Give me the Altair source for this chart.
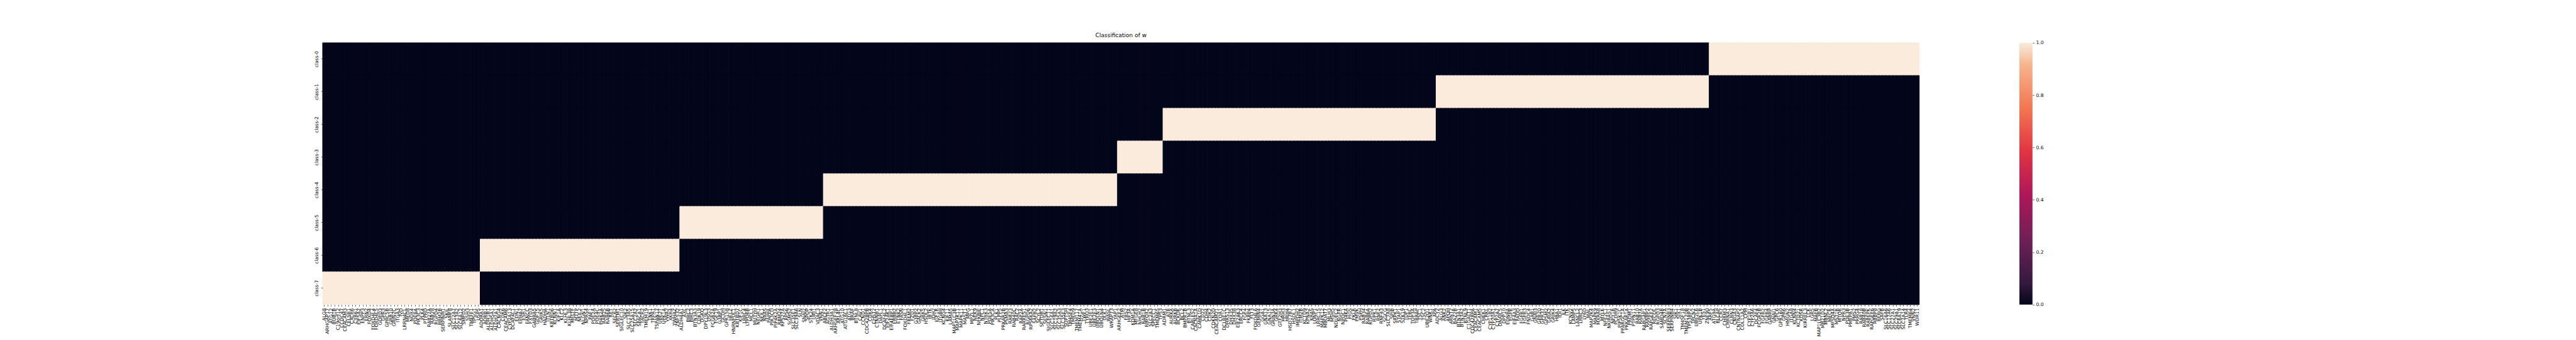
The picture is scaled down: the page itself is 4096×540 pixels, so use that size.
import altair as alt
import pandas as pd

classes = ["class-0", "class-1", "class-2", "class-3", "class-4", "class-5", "class-6", "class-7"]

genes_class7 = ["ALG8", "ARHGAP17", "ATG12", "BUB1B", "C19orf12", "CCDC47", "CEACAM3", "CELSR1", "CXCR6",
                "CYR61", "EIF5A2", "ENPP3", "ERN2", "FOXD4", "FOXD4L4", "FOXD4L5", "GDPD3", "GPR3", "GPRC5B",
                "GRB10", "GRIN2C", "ITGA3", "IVD", "LRRN4CL", "MED8", "NOX4", "PDE8A", "PIK3C3", "PLK4",
                "PTPRD", "RAB27A", "RAB28", "RGPD4", "RRM2B", "SERPINH1", "SKIL", "SLAMF8", "SLC12A7",
                "SLC13A2", "SLC6A12", "SMPD2", "SSH3", "TMEFF1", "TPSG1", "USP5"]
genes_class6 = ["ADORA1", "ADRB1", "ALDH1B1", "ALDH5A1", "ALDH7A1", "CACNG4", "CDK6", "CEACAM6", "CYP2A13",
                "DCAF4L1", "EDN1", "EPHA7", "ESR1", "FANCC", "FXYD3", "GABRA5", "GDF15", "GRIK5", "HADHA",
                "ITLN1", "KBTBD6", "KCNN1", "KIF1A", "KLC2", "KLHL3", "KLHL38", "MELTF", "MTTP", "NEIL2",
                "NLGN1", "NPAS4", "PAF1", "PDE2A", "PDE4C", "PI4K2A", "RAB25", "RAB6B", "RET", "SEC62",
                "SERTM1", "SIGLEC10", "SIK2", "SLC13A5", "SLC25A15", "SLC2A2", "SPACA1", "TACR2", "TMEM19",
                "TNK1", "TRPA1", "TSPAN17", "UBE2T", "UPK1A", "VWA2", "XKR4", "YWHAZ", "ZNF532"]
genes_class5 = ["ALDH4A1", "AXL", "BIRC2", "BIRC3", "BTN3A3", "CDK19", "DGKQ", "DPY19L3", "DSG3", "FCGR2A",
                "FGF19", "G3BP1", "GCDH", "GPR158", "HELZ", "HNRNPUL1", "KBTBD7", "KIF1C", "LRRC4", "LYPD6B",
                "MCL1", "MUTYH", "NEGR1", "NEIL1", "NRAS", "PAPPA", "PIK3CD", "PIP4K2A", "RBM24", "RPS27A",
                "RPS6", "SGMS2", "SLC35E1", "SLC39A6", "SLN", "SNAI2", "SPOP", "STK24", "URI1", "VDAC3", "VNN1"]
genes_class4 = ["ABCF2", "AGTR1", "ALDH3A1", "ARHGEF28", "ARL4C", "ATG10", "ATG16L1", "ATG3", "BRAF", "BTNL8",
                "CAV1", "CCND1", "CDC42BPB", "CDK4", "CHST2", "CTNNB1", "DAPL1", "DCAF4L2", "EIF2AK1",
                "EIF4EBP1", "ERBB2", "ETNK2", "FASN", "FOXD4L1", "FREM2", "FZD1", "G3BP2", "GALK2", "GRK5",
                "HSDL2", "IBTK", "IDH2", "IGF1R", "ITGB8", "KCNG4", "KIF11", "LAMA5", "MAP1LC3B", "MAP3K11",
                "MAPK11", "MAST1", "MPG", "MPZL1", "NEK9", "NFKBIE", "NPC1", "NTRK3", "PDE5A", "PIK3CA",
                "PLK1", "PLPP5", "PRKAR2B", "PSMA3", "RAB23", "RAB40C", "RAC2", "RAP2A", "RARRES1", "RGPD6",
                "RPS6KA2", "SAFB2", "SCYL2", "SETDB1", "SESN1", "SIGLEC11", "SLC16A1", "SLC19A2", "SLC35A3",
                "SLC35E3", "SUPT5H", "TM4SF4", "TMED9", "TMEM117", "TMEM41A", "TWF1", "TYRO3", "UBE2E1",
                "UBE2E3", "UBQLN1", "UBQLN4", "ULK1", "WASL", "WRAP73", "YAP1"]
genes_class3 = ["ARHGEF2", "ATM", "FRS2", "HIF3A", "KDM1A", "MFGE8", "NHLH2", "RAB1B", "RBFOX2", "SLC2A3",
                "SPECC1", "TMEM65", "TP53"]
genes_class2 = ["ADRM1", "ATR", "AURKA", "AURKB", "BCKDK", "BCL2", "BMPR1B", "BTNL3", "CABLES2", "CACNA1A",
                "CAMK1D", "CD22", "CDH4", "CDK2", "CDKN2D", "CEACAM21", "COA1", "DCLRE1C", "DHRS13", "DHX35",
                "DHX38", "EIF2AK3", "ERCC4", "FGF4", "FKBP4", "FLT3", "FOXD4L6", "GEMIN4", "GGA1", "GNA13",
                "GNA15", "GRIN3A", "GRK4", "GTF2H3", "HRH3", "HRH4", "HSD17B7", "HSDL1", "IMPDH2", "ITM2B",
                "KCTD9", "KPNA2", "KRAS", "LONP1", "LRRC15", "MAPK12", "MBOAT7", "MLH3", "MSH5", "NDUFC2",
                "NGFR", "NPDC1", "PI4KA", "PIGS", "PKLR", "PMVK", "PSPH", "RAB34", "RAB6A", "RGPD2", "RIPK1",
                "RNF2", "RNF43", "SGCG", "SLC7A8", "SPIB", "SRPK1", "STAP1", "STK19", "TDP1", "TFRC", "TOP3A",
                "TRRAP", "TSC1", "TSC2", "UBE2Q1", "WNK1", "XPA"]
genes_class1 = ["ADCY2", "ALG3", "ANK2", "APOH", "ARNT2", "BAZ2B", "BTN3A1", "BTN3A2", "BTNL9", "C1GALT1",
                "CDC42BPA", "CEACAM1", "CEACAM5", "CHEK1", "CRKL", "CYP11B2", "CYP20A1", "CYP2A7", "DNAJC5",
                "DPP10", "EDNRA", "EGFR", "EIF4A3", "FADD", "FGFR1", "FGFR3", "FNDC4", "GAB1", "GNAI3", "GPR20",
                "GPR37", "GPSM2", "GRIA2", "GRIK4", "HBA1", "IDI1", "ILK", "ITK", "KCNV2", "LAMP5", "LANCL2",
                "LRRC3", "LY6D", "MAL", "MAP2K4", "MAPK9", "MXRA8", "MYLK", "NFE2L1", "NKIRAS1", "NPY1R",
                "PCDH9", "PIP5K1C", "PPARGC1A", "PRKAR1A", "PROM1", "PTPN11", "RAB10", "RAB7A", "RABGAP1",
                "RANBP2", "RAPGEF2", "RECQL", "RGPD3", "SAMD4B", "SCN7A", "SERPINB3", "SERPINB4", "SIK1",
                "SIX1", "TM4SF18", "TMEM170B", "TP53BP2", "TPCN2", "UBE2L6", "UPK1B", "YES1", "ZNF90"]
genes_class0 = ["ARF5", "ATG9A", "BLCAP", "CCR7", "CHRM3", "CHRNA1", "CLRN3", "CNGA3", "CNTNAP2", "COL11A2",
                "CPM", "CYP1B1", "CYP2A6", "DCAF4", "FCGR2B", "FGFR2", "FGFR4", "GABRP", "GNAI1", "GPC6",
                "GPR160", "GPR6", "HMGN2", "ITGA8", "KCNN4", "KCTD21", "KDSR", "KIRREL3", "LCK", "LGR5",
                "MAFB", "MAP1LC3B2", "MB21D2", "MBNL2", "MECR", "MFSD4A", "MST1R", "MTOR", "NPR3", "PDE3B",
                "PMEPA1", "PMS2", "PRRG4", "RAB18", "RAB40B", "RABEPK", "RAPGEF6", "RBBP8", "RERG", "SAFB",
                "SLC16A6", "SLC17A6", "SLC27A1", "SLC29A1", "SLC6A19", "SLC7A14", "TLR4", "TMEM64", "VNN2",
                "WDR11"]

blocks = [("class-7", genes_class7), ("class-6", genes_class6), ("class-5", genes_class5),
          ("class-4", genes_class4), ("class-3", genes_class3), ("class-2", genes_class2),
          ("class-1", genes_class1), ("class-0", genes_class0)]

cbar_ticks = [0.0, 0.2, 0.4, 0.6, 0.8, 1.0]

order = []
records = []
for cls, genes in blocks:
    for g in genes:
        order.append(g)
        for c in classes:
            records.append({"gene": g, "cls": c, "value": 1.0 if c == cls else 0.0})
df = pd.DataFrame(records)

# rocket colormap stops
rocket_offsets = [0.0, 0.0833, 0.25, 0.4167, 0.5833, 0.75, 0.9167, 1.0]
rocket_colors = ["#03051a", "#35193e", "#701f57", "#ad1759", "#e13342", "#f37651", "#f6b48f", "#faebdd"]

S = 0.54
FS = 13.89 * S        # 10pt tick labels
TFS = 16.67 * S       # 12pt title
TICK = 4.86 * S
PAD = 4.86 * S
TW = 1.11 * S

W = 4701.4 * S
H = 770.0 * S

color_scale = alt.Scale(domain=rocket_offsets, range=rocket_colors)

title_kw = dict(fontSize=TFS, font="DejaVu Sans", fontWeight="normal", color="black",
                offset=-1, anchor="middle", frame="group", baseline="alphabetic")

heat = alt.Chart(df).mark_rect(strokeWidth=1.0).encode(
    x=alt.X("gene:N", sort=order, scale=alt.Scale(paddingInner=0, paddingOuter=0),
            axis=alt.Axis(title=None, labelAngle=270, labelAlign="right", labelBaseline="middle",
                          labelOverlap=False, domain=False)),
    y=alt.Y("cls:N", sort=classes, scale=alt.Scale(paddingInner=0, paddingOuter=0),
            axis=alt.Axis(title=None, labelAngle=270, labelAlign="center", labelBaseline="bottom",
                          labelOverlap=False, domain=False)),
    color=alt.Color("value:Q", scale=color_scale, legend=None),
    stroke=alt.Stroke("value:Q", scale=color_scale, legend=None),
).properties(width=W, height=H, title=alt.TitleParams("Classification of w", **title_kw))

cb_df = pd.DataFrame({"lo": [0.0], "hi": [1.0]})
gradient = {"gradient": "linear", "x1": 0, "x2": 0, "y1": 1, "y2": 0,
            "stops": [{"offset": o, "color": c} for o, c in zip(rocket_offsets, rocket_colors)]}
cbar = alt.Chart(cb_df).mark_rect(color=gradient).encode(
    y=alt.Y("lo:Q", scale=alt.Scale(domain=[0, 1], nice=False, zero=False),
            axis=alt.Axis(title=None, orient="right", values=cbar_ticks, format=".1f", grid=False,
                          domain=False, labelFlush=False, labelOverlap=False)),
    y2="hi:Q",
).properties(width=38.5 * S, height=H, title=alt.TitleParams(" ", **title_kw))

chart = alt.hconcat(heat, cbar, spacing=158).properties(
    padding={"left": 491, "top": 40, "right": 10, "bottom": 0},
    background="white",
).configure_view(stroke=None).configure_axis(
    labelFont="DejaVu Sans", labelFontSize=FS, labelColor="black", tickColor="black",
    tickWidth=TW, tickSize=TICK, labelPadding=PAD, grid=False,
)

chart.save("out.html", embed_options={"renderer": "svg", "actions": False})
